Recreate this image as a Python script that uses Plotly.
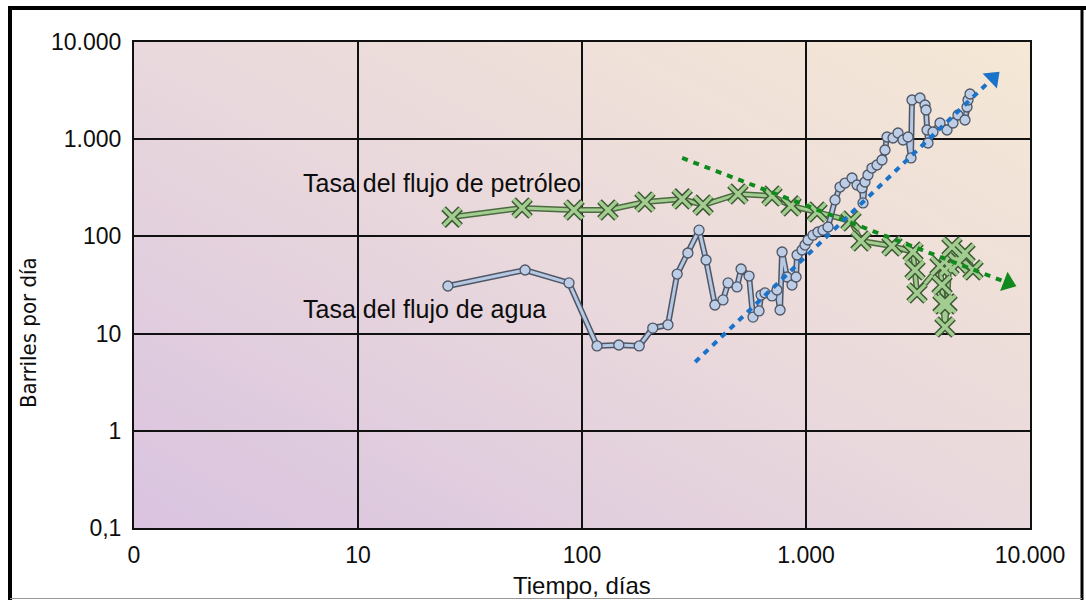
import base64
import plotly.graph_objects as go

# ---- data ----
oil_days = [26.3, 54, 92.1, 130.6, 191, 280, 347, 497, 705, 857, 1120, 1588, 1760,
            2420, 3004, 3067, 3130, 3966, 4048, 4090, 4174, 4261, 4349, 4485, 4771,
            5126, 5566]
oil_rate = [158, 196, 187, 187, 226, 243, 210, 273, 260, 206, 178, 144, 89.7,
            79.6, 69.1, 45.1, 26.2, 49.6, 31.6, 20.2, 11.7, 20.2, 49.6, 77.8, 53.2,
            67.5, 45.1]

water_days = [25.2, 55.7, 87.5, 116.7, 146, 180, 207, 242, 266, 297, 333, 358, 392,
              426, 449, 492, 513, 557, 580, 617, 630, 656, 705, 742, 766, 782, 823,
              866, 903, 912, 960, 990, 1021, 1075, 1131, 1191, 1254, 1348, 1419, 1494,
              1605, 1690, 1778, 1797, 1834, 1891, 1970, 2075, 2184, 2253, 2300, 2446,
              2575, 2710, 2854, 2943, 2973, 3228, 3399, 3434, 3469, 3505, 3690, 3966,
              4261, 4532, 4771, 5126, 5234, 5288, 5398]
water_rate = [30.9, 45.1, 33.2, 7.46, 7.63, 7.46, 11.4, 12.3, 41.0, 67.5, 116, 57.2,
              19.7, 22.2, 33.2, 30.2, 46.2, 39.1, 14.8, 17.1, 24.9, 26.2, 24.4, 28.1,
              17.5, 69.1, 38.2, 31.6, 38.2, 64.4, 72.5, 81.5, 91.8, 103, 111, 116, 125,
              237, 322, 354, 399, 338, 315, 221, 363, 428, 505, 543, 611, 774, 1053,
              1029, 1158, 981, 1053, 641, 2531, 2654, 2248, 1997, 1243, 914, 1186,
              1468, 1243, 1468, 1774, 1576, 2145, 2531, 2917]

oil_trend_days = [280, 7977]
oil_trend_rate = [641, 33.2]
water_trend_days = [320, 6836]
water_trend_rate = [5.1, 4262]

x_tickvals = [1, 10, 100, 1000, 10000]
x_ticktext = ["0", "10", "100", "1.000", "10.000"]
y_tickvals = [0.1, 1, 10, 100, 1000, 10000]
y_ticktext = ["0,1", "1", "10", "100", "1.000", "10.000"]

label_oil = "Tasa del flujo de petróleo"
label_water = "Tasa del flujo de agua"
x_title = "Tiempo, días"
y_title = "Barriles por día"

# ---- figure ----
W, H = 1086, 600
L, R, T, B = 134, 56, 42, 72
PW, PH = W - L - R, H - T - B

def px(xp):
    return (xp - L) / PW

def py(yp):
    return 1 - (yp - T) / PH

FONT = "Liberation Sans, Arial, Helvetica, sans-serif"
NARROW = "Liberation Sans Narrow, Arial Narrow, DejaVu Sans Condensed, Liberation Sans, sans-serif"
INK = "#0d0d0d"

fig = go.Figure()

# oil series (double line: dark outline + light fill)
fig.add_trace(go.Scatter(x=oil_days, y=oil_rate, mode="lines",
                         line=dict(color="#4b6a40", width=6), hoverinfo="skip"))
fig.add_trace(go.Scatter(x=oil_days, y=oil_rate, mode="lines",
                         line=dict(color="#a3cd90", width=3), hoverinfo="skip"))
fig.add_trace(go.Scatter(x=oil_days, y=oil_rate, mode="markers", hoverinfo="skip",
                         marker=dict(symbol="x-thin-open", size=17, color="#3d5934",
                                     line=dict(width=6.5))))
fig.add_trace(go.Scatter(x=oil_days, y=oil_rate, mode="markers",
                         marker=dict(symbol="x-thin-open", size=17, color="#a3cd90",
                                     line=dict(width=3.5))))

# water series
fig.add_trace(go.Scatter(x=water_days, y=water_rate, mode="lines",
                         line=dict(color="#4e5666", width=6), hoverinfo="skip"))
fig.add_trace(go.Scatter(x=water_days, y=water_rate, mode="lines",
                         line=dict(color="#b6c8e2", width=3), hoverinfo="skip"))
fig.add_trace(go.Scatter(x=water_days, y=water_rate, mode="markers",
                         marker=dict(symbol="circle", size=10, color="#bccde5",
                                     line=dict(color="#4e5666", width=1.3))))

# trend arrows
for tx, ty, col in [(oil_trend_days, oil_trend_rate, "#118a1d"),
                    (water_trend_days, water_trend_rate, "#1a72c9")]:
    fig.add_trace(go.Scatter(x=tx, y=ty, mode="lines+markers",
                             line=dict(color=col, width=4, dash="6px,6px"),
                             marker=dict(symbol="triangle-up", angleref="previous",
                                         size=[0, 18], color=col, opacity=1,
                                         line=dict(width=0))))

# gradient background for plot area
svg = ('<svg xmlns="http://www.w3.org/2000/svg" width="896" height="486" '
       'preserveAspectRatio="none"><defs><linearGradient id="g" x1="0" y1="1" '
       'x2="1" y2="0"><stop offset="0" stop-color="#d9c3e0"/>'
       '<stop offset="0.5" stop-color="#e9d8dc"/>'
       '<stop offset="1" stop-color="#f5e8d5"/></linearGradient></defs>'
       '<rect width="896" height="486" fill="url(#g)"/></svg>')
src = "data:image/svg+xml;base64," + base64.b64encode(svg.encode()).decode()

fig.update_layout(
    width=W, height=H,
    margin=dict(l=L, r=R, t=T, b=B),
    paper_bgcolor="white", plot_bgcolor="white",
    showlegend=False,
    font=dict(family=FONT, size=23, color=INK),
    images=[dict(source=src, xref="paper", yref="paper", x=0, y=1,
                 sizex=1, sizey=1, xanchor="left", yanchor="top",
                 sizing="stretch", layer="below")],
    xaxis=dict(type="log", range=[0, 4], tickvals=x_tickvals, ticktext=x_ticktext,
               showgrid=True, gridcolor="#111", gridwidth=2,
               showline=True, linecolor="#111", linewidth=2, mirror=True,
               ticks="", zeroline=False, ticklabelstandoff=5,
               tickfont=dict(size=23, family=FONT, color=INK)),
    yaxis=dict(type="log", range=[-1, 4], tickvals=y_tickvals, ticktext=y_ticktext,
               showgrid=True, gridcolor="#111", gridwidth=2,
               showline=True, linecolor="#111", linewidth=2, mirror=True,
               ticks="", zeroline=False, ticklabelstandoff=6,
               tickfont=dict(size=23, family=FONT, color=INK)),
    annotations=[
        dict(text=label_oil, xref="paper", yref="paper", x=px(301), y=py(183),
             xanchor="left", yanchor="middle", showarrow=False,
             font=dict(size=25, family=FONT, color=INK)),
        dict(text=label_water, xref="paper", yref="paper", x=px(301), y=py(309),
             xanchor="left", yanchor="middle", showarrow=False,
             font=dict(size=25, family=FONT, color=INK)),
        dict(text=x_title, xref="paper", yref="paper", x=0.5, y=py(585),
             xanchor="center", yanchor="middle", showarrow=False,
             font=dict(size=24, family=FONT, color=INK)),
        dict(text=y_title, xref="paper", yref="paper", x=px(28), y=py(333),
             xanchor="center", yanchor="middle", showarrow=False, textangle=-90,
             font=dict(size=22, family=NARROW, color=INK)),
    ],
    shapes=[
        dict(type="line", xref="paper", yref="paper", x0=px(10), x1=px(10),
             y0=py(6), y1=py(600), line=dict(color="black", width=4)),
        dict(type="line", xref="paper", yref="paper", x0=px(8), x1=px(1086),
             y0=py(8), y1=py(8), line=dict(color="black", width=4)),
        dict(type="line", xref="paper", yref="paper", x0=px(1082), x1=px(1082),
             y0=py(6), y1=py(600), line=dict(color="black", width=3)),
        dict(type="line", xref="paper", yref="paper", x0=px(10), x1=px(1082),
             y0=py(598.5), y1=py(598.5), line=dict(color="#999", width=1)),
    ],
)

fig.write_html("out.html")
